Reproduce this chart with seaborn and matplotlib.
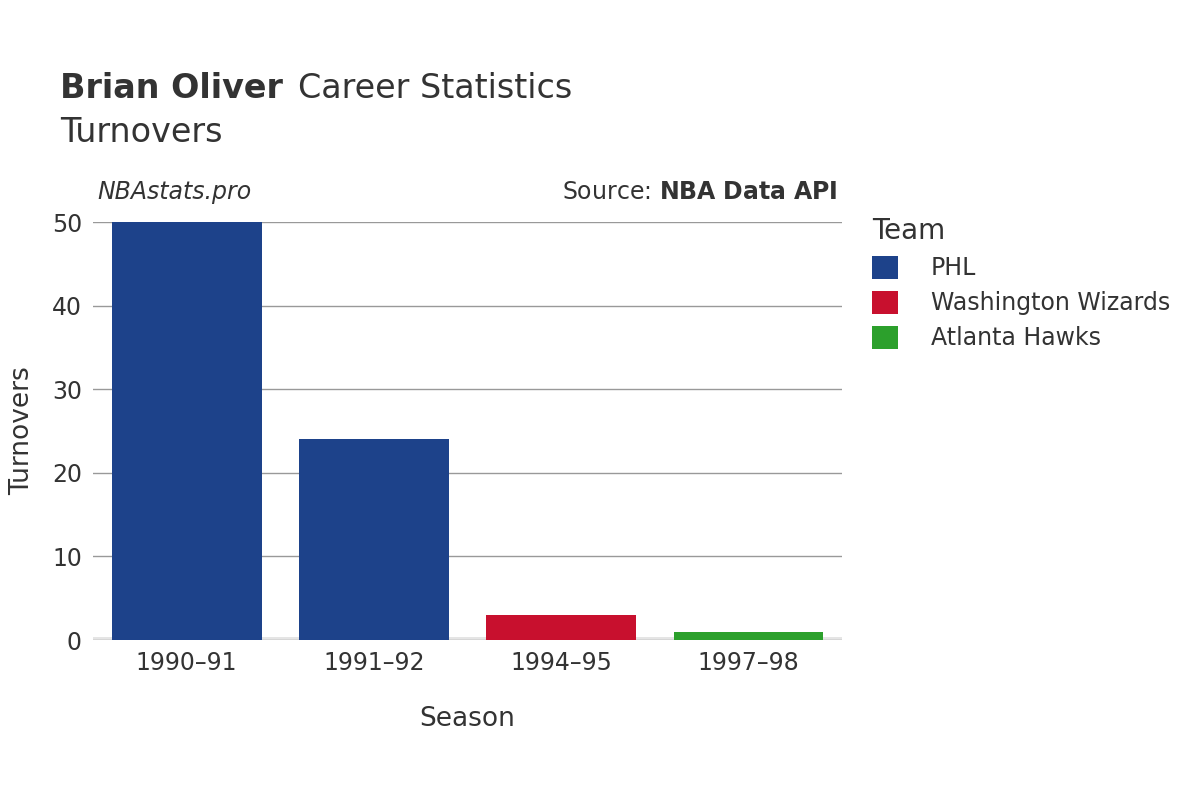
import matplotlib
matplotlib.use("Agg")
import matplotlib.pyplot as plt
from matplotlib.patches import Patch
import seaborn as sns
import pandas as pd

seasons = ["1990\u201391", "1991\u201392", "1994\u201395", "1997\u201398"]
teams = ["PHL", "PHL", "Washington Wizards", "Atlanta Hawks"]
turnovers = [50, 24, 3, 1]
team_colors = {"PHL": "#1d428a", "Washington Wizards": "#c8102e", "Atlanta Hawks": "#2ca02c"}

df = pd.DataFrame({"Season": seasons, "Team": teams, "Turnovers": turnovers})

plt.rcParams["font.family"] = "DejaVu Sans"
fig = plt.figure(figsize=(12, 8), dpi=100)
ax = fig.add_axes([0.0775, 0.2, 0.6242, 0.5225])

sns.barplot(data=df, x="Season", y="Turnovers", hue="Team", palette=team_colors,
            dodge=False, width=0.8, ax=ax, legend=False, saturation=1)

ax.set_ylim(0, 50)
ax.set_xlim(-0.5, 3.5)
ax.set_yticks([0, 10, 20, 30, 40, 50])
ax.grid(axis="y", color="#999999", linewidth=1)
ax.set_axisbelow(True)
for s in ax.spines.values():
    s.set_visible(False)
ax.axhline(0, color="#e5e5e5", linewidth=5, zorder=0.5)
ax.tick_params(axis="both", length=0, labelsize=17, colors="#333333", pad=8)
ax.set_xlabel("Season", fontsize=19, color="#333333", labelpad=22)
ax.set_ylabel("Turnovers", fontsize=19, color="#333333", labelpad=12)

fig.text(0.05, 0.877, "Brian Oliver", fontsize=24, fontweight="bold", color="#333333")
fig.text(0.248, 0.877, "Career Statistics", fontsize=24, color="#333333")
fig.text(0.05, 0.822, "Turnovers", fontsize=24, color="#333333")
fig.text(0.081, 0.751, "NBAstats.pro", fontsize=17, style="italic", color="#333333")
fig.text(0.698, 0.751, "Source: $\\bf{NBA\\ Data\\ API}$", fontsize=17, color="#333333", ha="right")

handles = [Patch(facecolor=c, label=t) for t, c in team_colors.items()]
leg = fig.legend(handles=handles, title="Team", loc="upper left", bbox_to_anchor=(0.709, 0.755),
                 frameon=False, fontsize=17, title_fontsize=20, handlelength=1.1,
                 handleheight=1.1, labelspacing=0.45, handletextpad=1.4, labelcolor="#333333")
leg.get_title().set_color("#333333")
leg._legend_box.align = "left"

fig.savefig("out.png", dpi=100)
